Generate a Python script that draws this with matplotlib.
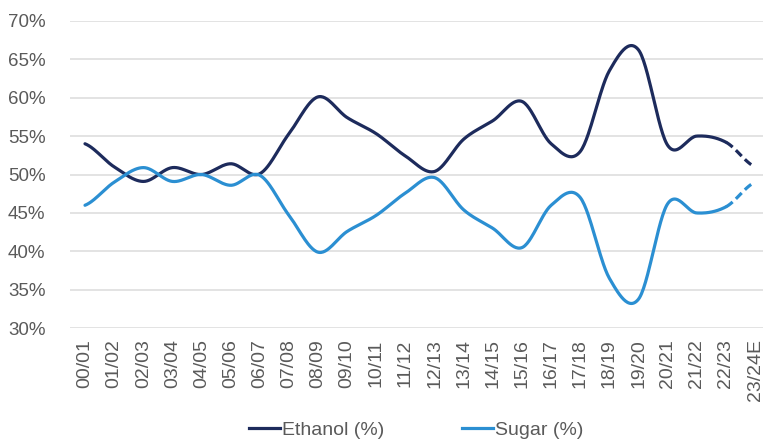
import numpy as np
import matplotlib.pyplot as plt
from matplotlib.lines import Line2D
from matplotlib.ticker import FuncFormatter

plt.rcParams['font.family'] = ['Liberation Sans', 'DejaVu Sans']

seasons = ['00/01', '01/02', '02/03', '03/04', '04/05', '05/06', '06/07', '07/08',
           '08/09', '09/10', '10/11', '11/12', '12/13', '13/14', '14/15', '15/16',
           '16/17', '17/18', '18/19', '19/20', '20/21', '21/22', '22/23', '23/24E']
ethanol = [54.0, 51.0, 49.1, 50.9, 50.0, 51.4, 50.1, 55.3, 60.1, 57.4, 55.3, 52.4,
           50.4, 54.6, 57.0, 59.5, 54.0, 53.0, 63.5, 66.2, 53.8, 55.0, 54.2, 51.0]
sugar = [46.0, 49.0, 50.9, 49.1, 50.0, 48.6, 49.9, 44.7, 39.9, 42.6, 44.7, 47.6,
         49.6, 45.4, 43.0, 40.5, 46.0, 47.0, 36.5, 33.8, 46.2, 45.0, 45.8, 49.0]

ETH_COLOR = '#1d2b5c'
SUG_COLOR = '#2b8fd2'


def smooth_segments(y, n=30):
    # excel-style smoothed line: cubic bezier per segment, catmull-rom tangents
    y = np.asarray(y, dtype=float)
    yp = np.concatenate([[y[0]], y, [y[-1]]])
    segs = []
    t = np.linspace(0, 1, n)
    for i in range(len(y) - 1):
        p0, p3 = y[i], y[i + 1]
        p1 = p0 + (yp[i + 2] - yp[i]) / 6.0
        p2 = p3 - (yp[i + 3] - yp[i + 1]) / 6.0
        xs = i + t
        ys = ((1 - t) ** 3 * p0 + 3 * (1 - t) ** 2 * t * p1
              + 3 * (1 - t) * t ** 2 * p2 + t ** 3 * p3)
        segs.append((xs, ys))
    return segs


fig = plt.figure(figsize=(7.63, 4.43), dpi=100)
ax = fig.add_axes([0.0923, 0.2589, 0.9164, 0.6943])

for vals, col in [(ethanol, ETH_COLOR), (sugar, SUG_COLOR)]:
    segs = smooth_segments(vals)
    xs = np.concatenate([s[0] for s in segs[:-1]])
    ys = np.concatenate([s[1] for s in segs[:-1]])
    ax.plot(xs, ys, color=col, lw=2.3, solid_capstyle='round', zorder=3)
    # last season is an estimate -> dashed
    ax.plot(segs[-1][0], segs[-1][1], color=col, lw=2.3, ls=(0, (2.6, 1.4)), zorder=3)

ax.set_xlim(-0.5, len(seasons) - 0.5)
ax.set_ylim(30, 70)
ax.set_yticks(np.arange(30, 71, 5))
ax.yaxis.set_major_formatter(FuncFormatter(lambda v, p: f'{v:.0f}%'))
ax.set_xticks(range(len(seasons)))
ax.set_xticklabels(seasons, rotation=90)

ax.grid(axis='y', color='#e3e3e3', lw=1.4)
ax.set_axisbelow(True)
for s in ax.spines.values():
    s.set_visible(False)
ax.tick_params(axis='y', length=0, pad=18, labelsize=13.5, labelcolor='#5a5a5a')
ax.tick_params(axis='x', length=0, pad=8, labelsize=14, labelcolor='#5a5a5a')

handles = [Line2D([], [], color=ETH_COLOR, lw=2.3), Line2D([], [], color=SUG_COLOR, lw=2.3)]
fig.legend(handles, ['Ethanol (%)', 'Sugar (%)'], loc='center', bbox_to_anchor=(0.545, 0.03),
           ncol=2, frameon=False, fontsize=14, handlelength=1.6, handletextpad=0.1,
           columnspacing=4.0, labelcolor='#5a5a5a')

fig.savefig('out.png', dpi=100)
